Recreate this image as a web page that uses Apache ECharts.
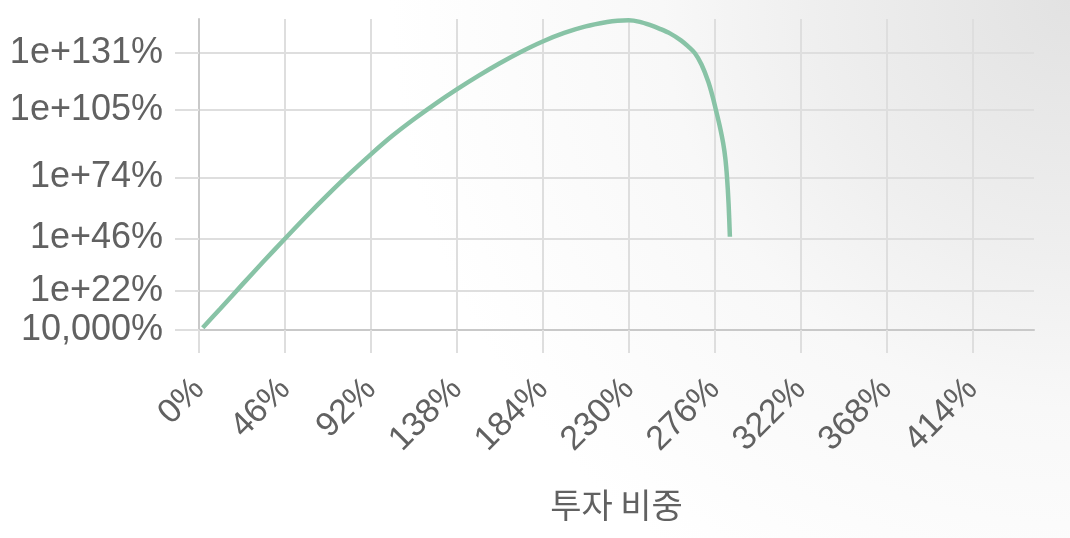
<!DOCTYPE html>
<html>
<head>
<meta charset="utf-8">
<script src="https://cdn.jsdelivr.net/npm/echarts@6/dist/echarts.min.js"></script>
<style>
  html, body { margin: 0; padding: 0; }
  body {
    width: 1070px; height: 538px; overflow: hidden;
    background: radial-gradient(circle 680px at 100% 0%, #e2e2e2 0%, #efefef 38%, #f8f8f8 60%, #ffffff 100%);
  }
  #chart { width: 1070px; height: 538px; }
</style>
</head>
<body>
<div id="chart"></div>
<script>
// investment fraction (%) and log10 of wealth (%)
const fractionPct = [2, 11.5, 23, 34.5, 46, 57.5, 69, 80.5, 92, 103.5, 115, 126.5, 138, 149.5, 161, 172.5, 184, 195.5, 207, 218.5, 224, 230, 236, 241.3, 246.7, 252.1, 258, 262, 265.5, 269, 272.6, 275, 276.7, 278.7, 280.6, 281.8, 282.7, 283.5, 284.2];
const wealthLog10Pct = [5.0, 13.9, 24.7, 35.4, 45.9, 56.2, 66.1, 75.6, 84.6, 93.1, 100.7, 107.8, 114.4, 120.6, 126.4, 131.7, 136.4, 140.3, 143.3, 145.3, 145.9, 146.1, 145.4, 144.0, 142.2, 140.1, 136.9, 134.0, 131.0, 125.8, 118.0, 111.0, 105.0, 97.8, 89.7, 82.5, 73.6, 62.0, 46.8];

const xTicks = [0, 46, 92, 138, 184, 230, 276, 322, 368, 414];
const yTickExps = [4, 22, 46, 74, 105, 131];
const yTickLabels = ['10,000%', '1e+22%', '1e+46%', '1e+74%', '1e+105%', '1e+131%'];
const xAxisName = '투자 비중';

const chart = echarts.init(document.getElementById('chart'), null, { renderer: 'canvas' });
const labelFont = 'Liberation Sans, Arial, Helvetica, sans-serif';
const gridColor = '#dedede';
const axisColor = '#c9c9c9';
const textColor = '#616161';

chart.setOption({
  backgroundColor: 'transparent',
  animation: false,
  grid: { left: 199, right: 36, top: 19, bottom: 208, containLabel: false },
  xAxis: {
    type: 'value',
    min: 0,
    max: 447,
    name: xAxisName,
    nameLocation: 'middle',
    nameGap: 158,
    nameTextStyle: { fontFamily: 'Noto Sans CJK KR, sans-serif', fontSize: 34, color: textColor },
    axisLine: { show: true, lineStyle: { color: axisColor, width: 2 } },
    axisTick: { show: true, customValues: xTicks, length: 23, lineStyle: { color: gridColor, width: 2 } },
    splitLine: { show: true, lineStyle: { color: gridColor, width: 2 } },
    axisLabel: {
      customValues: xTicks,
      rotate: 45,
      align: 'right',
      verticalAlign: 'middle',
      margin: 54,
      fontSize: 34,
      fontFamily: labelFont,
      color: textColor,
      formatter: v => v + '%'
    }
  },
  yAxis: {
    type: 'value',
    min: 4,
    max: 146.7,
    axisLine: { show: true, lineStyle: { color: axisColor, width: 2 } },
    axisTick: { show: true, customValues: yTickExps, length: 24, lineStyle: { color: gridColor, width: 2 } },
    splitLine: { show: true, lineStyle: { color: gridColor, width: 2 } },
    axisLabel: {
      customValues: yTickExps,
      margin: 36,
      fontSize: 36,
      fontFamily: labelFont,
      color: textColor,
      formatter: v => {
        const i = yTickExps.indexOf(v);
        return i >= 0 ? yTickLabels[i] : '';
      }
    }
  },
  series: [{
    type: 'line',
    data: fractionPct.map((f, i) => [f, wealthLog10Pct[i]]),
    showSymbol: false,
    smooth: 0.3,
    clip: false,
    lineStyle: { color: '#88c3a6', width: 4.5 }
  }]
});
</script>
</body>
</html>
